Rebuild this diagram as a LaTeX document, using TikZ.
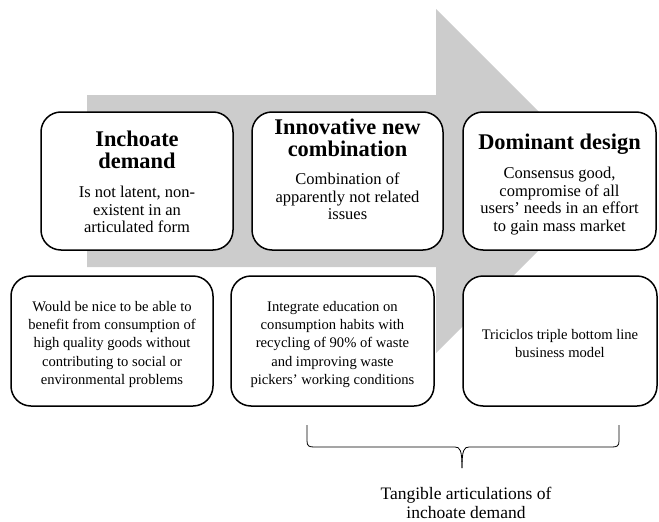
\documentclass[tikz,border=0pt]{standalone}
\usepackage{fontspec}
\setmainfont{Liberation Serif}

\definecolor{arrowgray}{RGB}{204,204,204}

\tikzset{
  box/.style={draw, line width=1.5pt, rounded corners=20pt, fill=white, inner sep=0pt},
  boxhead/.style={font=\bfseries\fontsize{22.4}{22}\selectfont, align=center, inner sep=0pt, anchor=north},
  boxtext/.style={font=\fontsize{16.5}{17.5}\selectfont, align=center, inner sep=0pt, anchor=north},
  lowtext/.style={font=\fontsize{14.6}{18.3}\selectfont, align=center, inner sep=0pt, anchor=north},
}

\begin{document}
\begin{tikzpicture}[x=1pt,y=-1pt]
  \useasboundingbox (0,0) rectangle (659,522);

  % Big arrow behind the boxes
  \fill[arrowgray] (87,95) -- (436,95) -- (436,9) -- (608,181) -- (436,353)
    -- (436,267) -- (87,267) -- cycle;

  % Upper row: the three stages
  \node[box, minimum width=192pt, minimum height=138pt] (inchoate) at (137,181) {};
  \node[boxhead] (inchoatehead) at (137,131) {Inchoate\\demand};
  \node[boxtext] (inchoatetext) at (137,186) {Is not latent, non-\\existent in an\\articulated form};

  \node[box, minimum width=191pt, minimum height=138pt] (newcomb) at (347.5,181) {};
  \node[boxhead] (newcombhead) at (347.5,119) {Innovative new\\combination};
  \node[boxtext] (newcombtext) at (347.5,173) {Combination of\\apparently not related\\issues};

  \node[box, minimum width=193pt, minimum height=138pt] (dominant) at (559.5,181) {};
  \node[boxhead] (dominanthead) at (559.5,134) {Dominant design};
  \node[boxtext] (dominanttext) at (559.5,167) {Consensus good,\\compromise of all\\users' needs in an effort\\to gain mass market};

  % Lower row: the Triciclos case
  \node[box, minimum width=202pt, minimum height=130pt] (wish) at (112,341) {};
  \node[lowtext] (wishtext) at (112,301) {Would be nice to be able to\\benefit from consumption of\\high quality goods without\\contributing to social or\\environmental problems};

  \node[box, minimum width=203pt, minimum height=130pt] (integrate) at (332.5,341) {};
  \node[lowtext] (integratetext) at (332.5,301) {Integrate education on\\consumption habits with\\recycling of 90\% of waste\\and improving waste\\pickers' working conditions};

  \node[box, minimum width=194pt, minimum height=130pt] (model) at (560,341) {};
  \node[lowtext] (modeltext) at (560,329) {Triciclos triple bottom line\\business model};

  % Brace under the last two boxes
  \coordinate (bracetip) at (462,468);
  \draw[line width=0.8pt] (307,425) -- (307,441) .. controls (307,446) and (309,447) .. (314,447)
    -- (455,447) .. controls (460,447) and (462,450) .. (bracetip);
  \draw[line width=0.8pt] (bracetip) .. controls (462,450) and (464,447) .. (469,447)
    -- (612,447) .. controls (617,447) and (619,446) .. (619,441) -- (619,425);

  % Caption
  \node[font=\fontsize{17.5}{19}\selectfont, align=center, inner sep=0pt, anchor=north] (caption)
    at (466,487) {Tangible articulations of\\inchoate demand};

\end{tikzpicture}
\end{document}
